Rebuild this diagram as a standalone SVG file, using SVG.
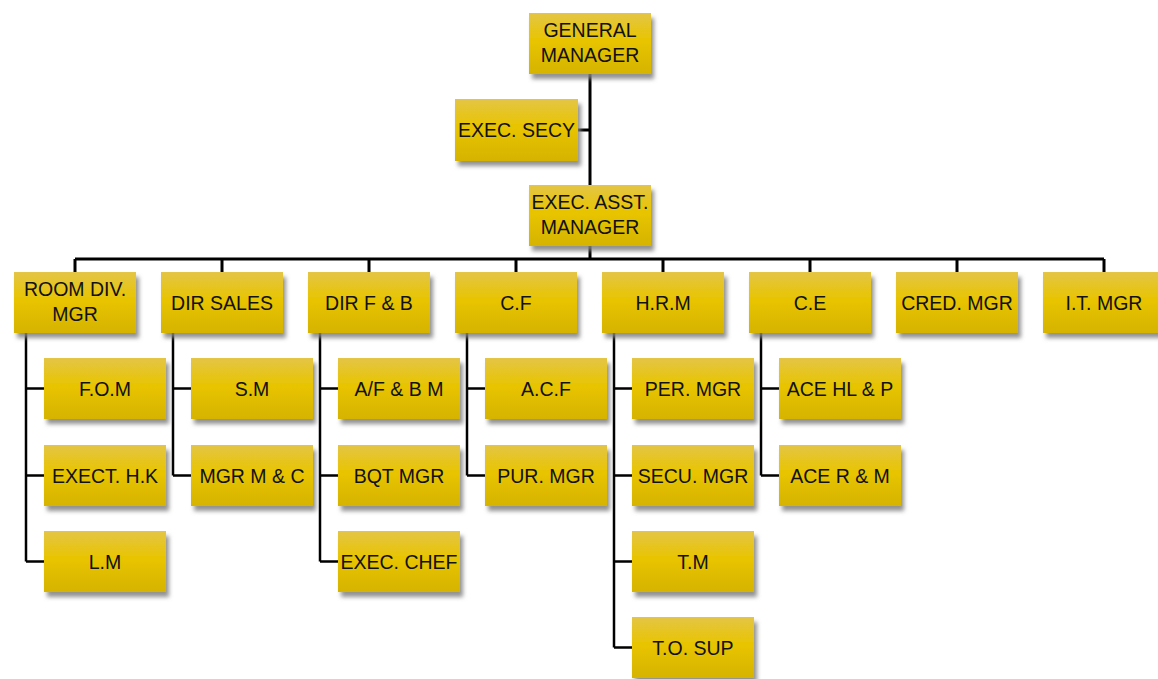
<svg xmlns="http://www.w3.org/2000/svg" width="1158" height="679" viewBox="0 0 1158 679">
<defs>
<linearGradient id="g" x1="0" y1="0" x2="0" y2="1">
<stop offset="0" stop-color="#E4C546"/>
<stop offset="0.45" stop-color="#E8C400"/>
<stop offset="1" stop-color="#D5B300"/>
</linearGradient>
<filter id="sh" x="-10%" y="-15%" width="125%" height="140%">
<feGaussianBlur in="SourceAlpha" stdDeviation="2"/>
<feOffset dx="3" dy="5" result="b"/>
<feFlood flood-color="#808080" flood-opacity="0.85"/>
<feComposite in2="b" operator="in"/>
<feMerge><feMergeNode/><feMergeNode in="SourceGraphic"/></feMerge>
</filter>
<style>
.b{fill:url(#g);filter:url(#sh)}
text{font-family:"Liberation Sans",Arial,sans-serif;font-size:19.5px;fill:#111;text-anchor:middle}
.c{fill:none;stroke:#000;stroke-width:3}
.s{fill:none;stroke:#000;stroke-width:2.5}
</style>
</defs>
<rect width="1158" height="679" fill="#fff"/>
<g id="connectors">
<path class="c" d="M590 74V185M578 130H590M590 246V259M75 259H1104M75 259V272M222 259V272M369 259V272M516 259V272M663 259V272M810 259V272M957 259V272M1104 259V272"/>
<path class="s" d="M26 333V561.5M26 388.5H44M26 475.5H44M26 561.5H44"/>
<path class="s" d="M173 333V475.5M173 388.5H191M173 475.5H191"/>
<path class="s" d="M320 333V561.5M320 388.5H338M320 475.5H338M320 561.5H338"/>
<path class="s" d="M467 333V475.5M467 388.5H485M467 475.5H485"/>
<path class="s" d="M614 333V647.5M614 388.5H632M614 475.5H632M614 561.5H632M614 647.5H632"/>
<path class="s" d="M761 333V475.5M761 388.5H779M761 475.5H779"/>
</g>
<g id="gm"><rect class="b" x="529" y="13" width="122" height="61"/><text x="590" y="37">GENERAL</text><text x="590" y="62">MANAGER</text></g>
<g id="secy"><rect class="b" x="455" y="99" width="123" height="62"/><text x="516.5" y="137">EXEC. SECY</text></g>
<g id="eam"><rect class="b" x="529" y="185" width="122" height="61"/><text x="590" y="209">EXEC. ASST.</text><text x="590" y="234">MANAGER</text></g>
<g id="roomdiv"><rect class="b" x="14" y="272" width="122" height="61"/><text x="75" y="296">ROOM DIV.</text><text x="75" y="321">MGR</text></g>
<g id="dirsales"><rect class="b" x="161" y="272" width="122" height="61"/><text x="222" y="309.5">DIR SALES</text></g>
<g id="dirfb"><rect class="b" x="308" y="272" width="122" height="61"/><text x="369" y="309.5">DIR F &amp; B</text></g>
<g id="cf"><rect class="b" x="455" y="272" width="122" height="61"/><text x="516" y="309.5">C.F</text></g>
<g id="hrm"><rect class="b" x="602" y="272" width="122" height="61"/><text x="663" y="309.5">H.R.M</text></g>
<g id="ce"><rect class="b" x="749" y="272" width="122" height="61"/><text x="810" y="309.5">C.E</text></g>
<g id="cred"><rect class="b" x="896" y="272" width="122" height="61"/><text x="957" y="309.5">CRED. MGR</text></g>
<g id="it"><rect class="b" x="1043" y="272" width="122" height="61"/><text x="1104" y="309.5">I.T. MGR</text></g>
<g id="fom"><rect class="b" x="44" y="358" width="122" height="61"/><text x="105" y="395.5">F.O.M</text></g>
<g id="hk"><rect class="b" x="44" y="445" width="122" height="61"/><text x="105" y="482.5">EXECT. H.K</text></g>
<g id="lm"><rect class="b" x="44" y="531" width="122" height="61"/><text x="105" y="568.5">L.M</text></g>
<g id="sm"><rect class="b" x="191" y="358" width="122" height="61"/><text x="252" y="395.5">S.M</text></g>
<g id="mgrmc"><rect class="b" x="191" y="445" width="122" height="61"/><text x="252" y="482.5">MGR M &amp; C</text></g>
<g id="afbm"><rect class="b" x="338" y="358" width="122" height="61"/><text x="399" y="395.5">A/F &amp; B M</text></g>
<g id="bqt"><rect class="b" x="338" y="445" width="122" height="61"/><text x="399" y="482.5">BQT MGR</text></g>
<g id="chef"><rect class="b" x="338" y="531" width="122" height="61"/><text x="399" y="568.5">EXEC. CHEF</text></g>
<g id="acf"><rect class="b" x="485" y="358" width="122" height="61"/><text x="546" y="395.5">A.C.F</text></g>
<g id="pur"><rect class="b" x="485" y="445" width="122" height="61"/><text x="546" y="482.5">PUR. MGR</text></g>
<g id="per"><rect class="b" x="632" y="358" width="122" height="61"/><text x="693" y="395.5">PER. MGR</text></g>
<g id="secu"><rect class="b" x="632" y="445" width="122" height="61"/><text x="693" y="482.5">SECU. MGR</text></g>
<g id="tm"><rect class="b" x="632" y="531" width="122" height="61"/><text x="693" y="568.5">T.M</text></g>
<g id="tosup"><rect class="b" x="632" y="617" width="122" height="61"/><text x="693" y="654.5">T.O. SUP</text></g>
<g id="acehl"><rect class="b" x="779" y="358" width="122" height="61"/><text x="840" y="395.5">ACE HL &amp; P</text></g>
<g id="acerm"><rect class="b" x="779" y="445" width="122" height="61"/><text x="840" y="482.5">ACE R &amp; M</text></g>
</svg>
